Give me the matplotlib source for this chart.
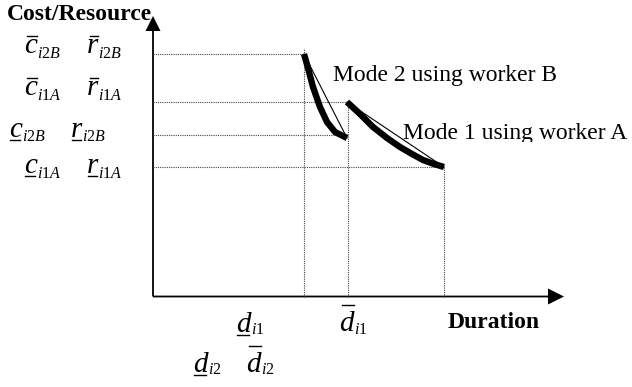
import matplotlib
matplotlib.use("Agg")
import matplotlib.pyplot as plt
from matplotlib.transforms import Bbox, TransformedBbox

W, H = 632, 387
OX, OY = 153, 296.5  # pixel position of the axes origin

# ---- data (origin at the axis corner, 1 unit = 1 px) ----
durations = [151, 194.5, 291]
costs = [242.5, 194.5, 162, 130]
hline_ends = [151, 194.5, 194.5, 291]
vline_tops = [249, 194.5, 130]

mode2_x = [151, 155, 160, 167, 174, 182, 194]
mode2_y = [242.5, 228.5, 209.5, 189.5, 174.5, 164.5, 158.5]
mode1_x = [194, 207, 220, 234, 247, 259, 270, 281, 291]
mode1_y = [194.5, 182.5, 169.5, 158.5, 149.5, 142.5, 136.5, 132.5, 129.5]

# labels: (base letter, subscript, bar type, x px, baseline y px, subscript drop px)
sym_labels = [
    ("c", "i2B", "over", 24, 53, 5), ("r", "i2B", "over", 87, 53, 5),
    ("c", "i1A", "over", 24, 95, 5), ("r", "i1A", "over", 87, 95, 5),
    ("c", "i2B", "under", 9, 137, 4), ("r", "i2B", "under", 71, 137, 4),
    ("c", "i1A", "under", 24, 173, 5), ("r", "i1A", "under", 87, 173, 5),
    ("d", "i1", "under", 236, 332, 2), ("d", "i1", "over", 339, 331, 3),
    ("d", "i2", "under", 193, 372, 2), ("d", "i2", "over", 246, 372, 2),
]

def px(x):
    return x - OX

def py(y):
    return OY - y

plt.rcParams["mathtext.fontset"] = "custom"
plt.rcParams["mathtext.it"] = "Liberation Serif:italic"
plt.rcParams["mathtext.rm"] = "Liberation Serif"

fig = plt.figure(figsize=(W / 100, H / 100), dpi=100)
ax = fig.add_axes([0, 0, 1, 1])
ax.set_xlim(-OX, W - OX)
ax.set_ylim(-(H - OY), OY)
ax.axis("off")

SERIF = "Liberation Serif"
dot = dict(color="#444444", lw=0.8, ls=(0, (1, 1)))

for c, xe in zip(costs, hline_ends):
    ax.plot([0, xe], [c, c], **dot)
for d, yt in zip(durations, vline_tops):
    ax.plot([d, d], [0, yt], **dot)

# chords
ax.plot([mode2_x[0], mode2_x[-1]], [mode2_y[0], mode2_y[-1]], color="black", lw=0.8)
ax.plot([mode1_x[0], mode1_x[-1]], [mode1_y[0], mode1_y[-1]], color="black", lw=0.8)
# curves
ax.plot(mode2_x, mode2_y, color="black", lw=4.6, solid_capstyle="butt", solid_joinstyle="round")
ax.plot(mode1_x, mode1_y, color="black", lw=4.6, solid_capstyle="butt", solid_joinstyle="round")

# axes with arrows
ax.arrow(0, 0, px(564), 0, width=1.8, head_width=16, head_length=16,
         length_includes_head=True, color="black", lw=0)
ax.arrow(0, 0, 0, py(16), width=1.8, head_width=15, head_length=15,
         length_includes_head=True, color="black", lw=0)

ax.text(px(7), py(20), "Cost/Resource", family=SERIF, weight="bold", fontsize=17, va="baseline")
ax.text(px(448), py(328), "Duration", family=SERIF, weight="bold", fontsize=17, va="baseline")
ax.text(px(333), py(81), "Mode 2 using worker B", family=SERIF, fontsize=17, va="baseline")
t1 = ax.text(px(403), py(139), "Mode 1 using worker A", family=SERIF, fontsize=17, va="baseline")
t1.set_clip_box(TransformedBbox(Bbox([[px(390), py(142)], [px(640), py(100)]]), ax.transData))
t1.set_clip_on(True)

fig.canvas.draw()
r = fig.canvas.get_renderer()
inv = ax.transData.inverted()
for base, sub, bar, x, y, drop in sym_labels:
    t = ax.text(px(x), py(y), base, family=SERIF, style="italic", fontsize=21, va="baseline")
    bb = t.get_window_extent(r)
    x0 = inv.transform((bb.x0, 0))[0]
    x1 = inv.transform((bb.x1, 0))[0]
    ax.text(x1, py(y) - drop, "$" + sub + "$", fontsize=11.5, va="baseline")
    if bar == "over":
        off = 26 if base == "d" else 17
        yy = py(y) + off
        ax.plot([x0 + 3, x1], [yy, yy], color="black", lw=1.0)
    else:
        yy = py(y) - 3
        ax.plot([x0 + 1, x1 - 1.5], [yy, yy], color="black", lw=1.0)

fig.savefig("out.png", dpi=100)
